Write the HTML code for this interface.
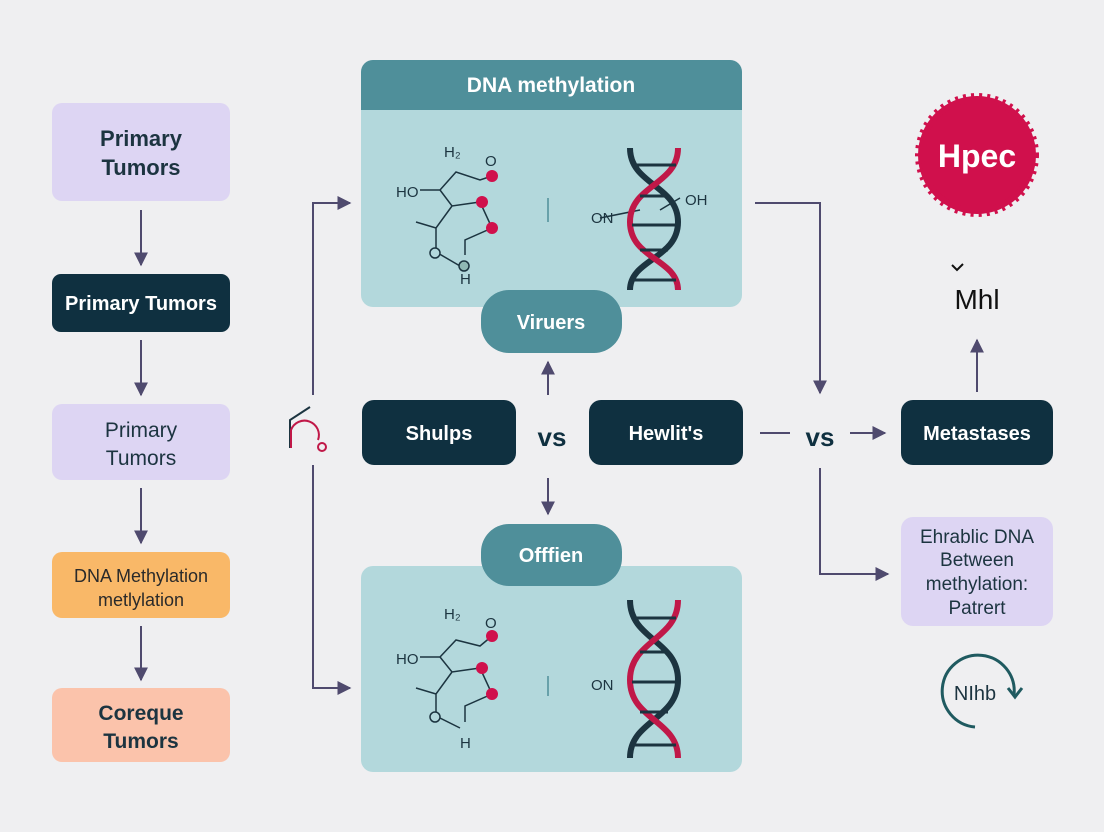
<!DOCTYPE html>
<html><head><meta charset="utf-8"><style>
body{margin:0;background:#efeff1;}
svg{display:block;font-family:"Liberation Sans",sans-serif;}
</style></head><body>
<svg width="1104" height="832" viewBox="0 0 1104 832" xmlns="http://www.w3.org/2000/svg">
<defs>
<marker id="a" viewBox="0 0 10 10" refX="9" refY="5" markerWidth="7" markerHeight="7" orient="auto-start-reverse"><path d="M0,0 L10,5 L0,10 z" fill="#4f4a6e"/></marker>
</defs>
<rect width="1104" height="832" fill="#efeff1"/>
<g stroke="#4f4a6e" stroke-width="2" fill="none">
<line x1="141" y1="210" x2="141" y2="265" marker-end="url(#a)"/>
<line x1="141" y1="340" x2="141" y2="395" marker-end="url(#a)"/>
<line x1="141" y1="488" x2="141" y2="543" marker-end="url(#a)"/>
<line x1="141" y1="626" x2="141" y2="680" marker-end="url(#a)"/>
<polyline points="313,395 313,203 350,203" marker-end="url(#a)"/>
<polyline points="313,465 313,688 350,688" marker-end="url(#a)"/>
<line x1="548" y1="395" x2="548" y2="362" marker-end="url(#a)"/>
<line x1="548" y1="478" x2="548" y2="514" marker-end="url(#a)"/>
<polyline points="755,203 820,203 820,393" marker-end="url(#a)"/>
<line x1="760" y1="433" x2="790" y2="433"/>
<line x1="850" y1="433" x2="885" y2="433" marker-end="url(#a)"/>
<line x1="977" y1="392" x2="977" y2="340" marker-end="url(#a)"/>
<polyline points="820,468 820,574 888,574" marker-end="url(#a)"/>
</g>
<rect x="52" y="103" width="178" height="98" rx="10" fill="#ddd5f3"/>
<text x="141" y="146" font-size="22" font-weight="bold" fill="#1c3440" text-anchor="middle">Primary</text>
<text x="141" y="175" font-size="22" font-weight="bold" fill="#1c3440" text-anchor="middle">Tumors</text>
<rect x="52" y="274" width="178" height="58" rx="9" fill="#0f3040"/>
<text x="141" y="310" font-size="20" font-weight="bold" fill="#fff" text-anchor="middle">Primary Tumors</text>
<rect x="52" y="404" width="178" height="76" rx="10" fill="#ddd5f3"/>
<text x="141" y="437" font-size="21" fill="#1c3440" text-anchor="middle">Primary</text>
<text x="141" y="465" font-size="21" fill="#1c3440" text-anchor="middle">Tumors</text>
<rect x="52" y="552" width="178" height="66" rx="10" fill="#f9b868"/>
<text x="141" y="582" font-size="18" fill="#2a2a2a" text-anchor="middle">DNA Methylation</text>
<text x="141" y="606" font-size="18" fill="#2a2a2a" text-anchor="middle">metlylation</text>
<rect x="52" y="688" width="178" height="74" rx="10" fill="#fbc3ab"/>
<text x="141" y="720" font-size="21" font-weight="bold" fill="#1c3440" text-anchor="middle">Coreque</text>
<text x="141" y="748" font-size="21" font-weight="bold" fill="#1c3440" text-anchor="middle">Tumors</text>
<path d="M290,448 V420 L310,407" stroke="#1c3440" stroke-width="2" fill="none"/>
<path d="M291,448 V430 A12,12 0 0 1 318,440" stroke="#c01848" stroke-width="2" fill="none"/>
<circle cx="322" cy="447" r="4" stroke="#c01848" stroke-width="2" fill="none"/>
<rect x="361" y="60" width="381" height="247" rx="12" fill="#b3d8dc"/>
<path d="M373,60 H730 A12,12 0 0 1 742,72 V110 H361 V72 A12,12 0 0 1 373,60 z" fill="#4f8f9a"/>
<text x="551" y="92" font-size="21" fill="#fff" text-anchor="middle" font-weight="bold">DNA methylation</text>
<rect x="361" y="566" width="381" height="206" rx="12" fill="#b3d8dc"/>
<g stroke="#1c3440" stroke-width="1.5" fill="none">
<path d="M420,190 H440 L456,172 L480,180 L492,176 M440,190 L452,206 L480,202 L492,228 L465,240 L465,255 M452,206 L436,228 L416,222 M436,228 V252 L460,266"/>
<circle cx="435" cy="253" r="5" fill="#b3d8dc"/><circle cx="464" cy="266" r="5" fill="#8fb8b4"/>
<line x1="548" y1="198" x2="548" y2="222" stroke="#4f8f9a"/>
<path d="M600,218 L640,210 M660,210 L680,198"/>
</g>
<circle cx="492" cy="176" r="6" fill="#d0104c"/><circle cx="482" cy="202" r="6" fill="#d0104c"/><circle cx="492" cy="228" r="6" fill="#d0104c"/>
<text x="444" y="157" font-size="15" fill="#1c3440">H₂</text><text x="485" y="166" font-size="15" fill="#1c3440">O</text>
<text x="396" y="197" font-size="15" fill="#1c3440">HO</text><text x="460" y="284" font-size="15" fill="#1c3440">H</text>
<text x="591" y="223" font-size="15" fill="#1c3440">ON</text><text x="685" y="205" font-size="15" fill="#1c3440">OH</text>
<g fill="none" stroke-width="6">
<path d="M630,148 C630,185 678,185 678,222 C678,259 630,259 630,290" stroke="#1c3440"/>
<path d="M678,148 C678,185 630,185 630,222 C630,259 678,259 678,290" stroke="#c01848"/>
</g>
<g stroke="#1c3440" stroke-width="3"><line x1="632" y1="165" x2="676" y2="165"/><line x1="640" y1="196" x2="668" y2="196"/><line x1="632" y1="225" x2="676" y2="225"/><line x1="640" y1="250" x2="668" y2="250"/><line x1="632" y1="280" x2="676" y2="280"/></g>
<g stroke="#1c3440" stroke-width="1.5" fill="none">
<path d="M420,657 H440 L456,640 L480,646 L492,636 M440,657 L452,672 L480,668 L492,694 L465,706 L465,722 M452,672 L436,694 L416,688 M436,694 V716 L460,728"/>
<circle cx="435" cy="717" r="5" fill="#b3d8dc"/>
<line x1="548" y1="676" x2="548" y2="696" stroke="#4f8f9a"/>
</g>
<circle cx="492" cy="636" r="6" fill="#d0104c"/><circle cx="482" cy="668" r="6" fill="#d0104c"/><circle cx="492" cy="694" r="6" fill="#d0104c"/>
<text x="444" y="619" font-size="15" fill="#1c3440">H₂</text><text x="485" y="628" font-size="15" fill="#1c3440">O</text>
<text x="396" y="664" font-size="15" fill="#1c3440">HO</text><text x="460" y="748" font-size="15" fill="#1c3440">H</text>
<text x="591" y="690" font-size="15" fill="#1c3440">ON</text>
<g fill="none" stroke-width="6">
<path d="M630,600 C630,640 678,640 678,680 C678,720 630,720 630,758" stroke="#1c3440"/>
<path d="M678,600 C678,640 630,640 630,680 C630,720 678,720 678,758" stroke="#c01848"/>
</g>
<g stroke="#1c3440" stroke-width="3"><line x1="632" y1="618" x2="676" y2="618"/><line x1="640" y1="652" x2="668" y2="652"/><line x1="632" y1="682" x2="676" y2="682"/><line x1="640" y1="712" x2="668" y2="712"/><line x1="632" y1="745" x2="676" y2="745"/></g>
<rect x="481" y="290" width="141" height="63" rx="28" fill="#4f8f9a"/>
<text x="551" y="329" font-size="20" font-weight="bold" fill="#fff" text-anchor="middle">Viruers</text>
<rect x="481" y="524" width="141" height="62" rx="28" fill="#4f8f9a"/>
<text x="551" y="562" font-size="20" font-weight="bold" fill="#fff" text-anchor="middle">Offfien</text>
<rect x="362" y="400" width="154" height="65" rx="12" fill="#0f3040"/>
<text x="439" y="440" font-size="20" font-weight="bold" fill="#fff" text-anchor="middle">Shulps</text>
<text x="552" y="446" font-size="26" font-weight="bold" fill="#0f3040" text-anchor="middle">vs</text>
<rect x="589" y="400" width="154" height="65" rx="12" fill="#0f3040"/>
<text x="666" y="440" font-size="20" font-weight="bold" fill="#fff" text-anchor="middle">Hewlit's</text>
<text x="820" y="446" font-size="26" font-weight="bold" fill="#0f3040" text-anchor="middle">vs</text>
<rect x="901" y="400" width="152" height="65" rx="12" fill="#0f3040"/>
<text x="977" y="440" font-size="20" font-weight="bold" fill="#fff" text-anchor="middle">Metastases</text>
<circle cx="977" cy="155" r="59" fill="#d0104c" stroke="#d0104c" stroke-width="6" stroke-dasharray="3 5"/>
<circle cx="977" cy="155" r="53" fill="#d0104c"/>
<text x="977" y="167" font-size="32" font-weight="bold" fill="#fff" text-anchor="middle">Hpec</text>
<text x="977" y="309" font-size="28" fill="#111" text-anchor="middle">Mhl</text>
<path d="M952,265 L957,270 L963,264" stroke="#111" stroke-width="2" fill="none"/>
<rect x="901" y="517" width="152" height="109" rx="12" fill="#ddd5f3"/>
<text x="977" y="543" font-size="19" fill="#1c3440" text-anchor="middle">Ehrablic DNA</text>
<text x="977" y="566" font-size="19" fill="#1c3440" text-anchor="middle">Between</text>
<text x="977" y="590" font-size="19" fill="#1c3440" text-anchor="middle">methylation:</text>
<text x="977" y="614" font-size="19" fill="#1c3440" text-anchor="middle">Patrert</text>
<path d="M1014,695 A36,36 0 1 0 975,727" stroke="#1f5a60" stroke-width="3" fill="none"/>
<path d="M1008,688 L1015,697 L1022,688" stroke="#1f5a60" stroke-width="3" fill="none"/>
<text x="975" y="700" font-size="20" fill="#1c3440" text-anchor="middle">NIhb</text>
</svg>
</body></html>
